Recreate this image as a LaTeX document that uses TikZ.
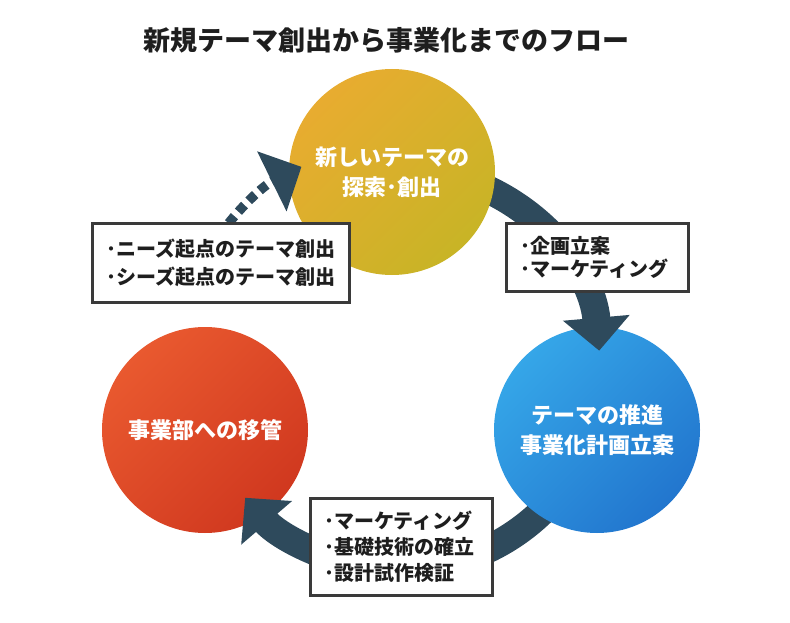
\documentclass[tikz,border=0pt]{standalone}
\usepackage{fontspec}
\setmainfont{Noto Sans CJK JP}
\usetikzlibrary{arrows.meta}
\definecolor{arrowc}{RGB}{46,74,92}
\definecolor{boxc}{RGB}{58,58,58}
\definecolor{titlec}{RGB}{30,30,30}
\definecolor{yelA}{RGB}{232,172,48}
\definecolor{yelB}{RGB}{200,180,38}
\definecolor{bluA}{RGB}{53,166,232}
\definecolor{bluB}{RGB}{34,118,206}
\definecolor{redA}{RGB}{233,89,47}
\definecolor{redB}{RGB}{208,56,31}
\begin{document}
\begin{tikzpicture}[x=1pt,y=-1pt,
  flow/.style={draw=arrowc, line width=28pt, -{Triangle[length=33pt,width=65pt]}},
  dotflow/.style={draw=arrowc, line width=9.5pt, dash pattern=on 9pt off 6pt, dash phase=5pt, -{Triangle[length=33pt,width=65pt]}},
  stage/.style={circle, minimum size=206pt, inner sep=0pt, text=white, align=center,
    font=\fontsize{22}{30}\selectfont\bfseries},
  box/.style={draw=boxc, line width=3pt, fill=white, align=left, inner xsep=14pt, inner ysep=0pt,
    text=titlec, font=\fontsize{20}{28}\selectfont\bfseries}
]
\useasboundingbox (0,0) rectangle (790,623);
% title
\node[text=titlec, font=\fontsize{27}{30}\selectfont\bfseries] (title) at (386,40) {新規テーマ創出から事業化までのフロー};
% red circle
\node[stage, top color=redA, bottom color=redB, shading angle=45] (red) at (205,430) {事業部への移管};
% arrow 2 (blue -> red)
\coordinate (a2s) at (560.8,490.6);
\draw[flow] (a2s) arc[start angle=38, end angle=139.4, radius=204];
% blue circle
\node[stage, top color=bluA, bottom color=bluB, shading angle=45] (blue) at (597,430) {テーマの推進\\事業化計画立案};
% arrow 1 (yellow -> blue)
\coordinate (a1s) at (453.2,176.7);
\draw[flow] (a1s) arc[start angle=-75, end angle=-5, radius=198];
% yellow circle
\node[stage, top color=yelA, bottom color=yelB, shading angle=45] (yel) at (392,172) {新しいテーマの\\探索･創出};
% arrow 3 (red -> yellow), dotted
\coordinate (a3s) at (206,256);
\draw[dotflow] (a3s) arc[start angle=-150, end angle=-116.1, radius=224];
% boxes
\node[box, text width=229pt, minimum height=79pt] (b1) at (220.5,262.5)
  {･ニーズ起点のテーマ創出\\･シーズ起点のテーマ創出};
\node[box, text width=154pt, minimum height=68pt, font=\fontsize{20}{23}\selectfont\bfseries] (b2) at (597,257)
  {･企画立案\\･マーケティング};
\node[box, text width=154pt, minimum height=97pt, font=\fontsize{20}{26}\selectfont\bfseries] (b3) at (401,546.5)
  {･マーケティング\\･基礎技術の確立\\･設計試作検証};
\end{tikzpicture}
\end{document}
